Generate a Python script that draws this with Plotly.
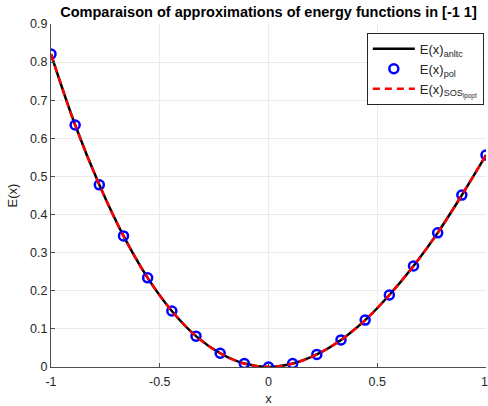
import plotly.graph_objects as go

x_vals = [-1.0, -0.8889, -0.7778, -0.6667, -0.5556, -0.4444, -0.3333, -0.2222, -0.1111, 0.0,
          0.1111, 0.2222, 0.3333, 0.4444, 0.5556, 0.6667, 0.7778, 0.8889, 1.0]
e_anltc = [0.821, 0.635, 0.478, 0.344, 0.234, 0.147, 0.081, 0.036, 0.009, 0.0,
           0.009, 0.033, 0.071, 0.123, 0.189, 0.265, 0.352, 0.451, 0.556]
e_pol = [0.821, 0.635, 0.478, 0.344, 0.234, 0.147, 0.081, 0.036, 0.009, 0.0,
         0.009, 0.033, 0.071, 0.123, 0.189, 0.265, 0.352, 0.451, 0.556]
e_sos = [0.821, 0.635, 0.478, 0.344, 0.234, 0.147, 0.081, 0.036, 0.009, 0.0,
         0.009, 0.033, 0.071, 0.123, 0.189, 0.265, 0.352, 0.451, 0.556]
x_ticks = [-1, -0.5, 0, 0.5, 1]
x_ticklabels = ["-1", "-0.5", "0", "0.5", "1"]
y_ticks = [0, 0.1, 0.2, 0.3, 0.4, 0.5, 0.6, 0.7, 0.8, 0.9]
y_ticklabels = ["0", "0.1", "0.2", "0.3", "0.4", "0.5", "0.6", "0.7", "0.8", "0.9"]

FONT = "Liberation Sans, Arial, sans-serif"
TICK_COLOR = "#262626"

fig = go.Figure()
fig.add_trace(go.Scatter(x=x_vals, y=e_anltc, mode="lines", name="E(x)<sub>anltc</sub>",
                         line=dict(color="black", width=2.5, shape="spline")))
fig.add_trace(go.Scatter(x=x_vals, y=e_pol, mode="markers", name="E(x)<sub>pol</sub>",
                         marker=dict(symbol="circle-open", size=9, color="#0000ff",
                                     line=dict(width=2.5, color="#0000ff"))))
fig.add_trace(go.Scatter(x=x_vals, y=e_sos, mode="lines", name="E(x)<sub>SOS<sub>lpopt</sub></sub>",
                         line=dict(color="#ff0000", width=2.5, dash="7px,5px", shape="spline")))

# The last x tick label sits on the page edge; plotly hides it, so draw it as an annotation.
fig.add_annotation(x=x_ticks[-1], xref="x", y=0, yref="paper", text=x_ticklabels[-1],
                   showarrow=False, xanchor="center", yanchor="middle", yshift=-15, xshift=-2,
                   font=dict(family=FONT, size=12.5, color=TICK_COLOR))

fig.update_layout(
    width=488, height=406,
    margin=dict(l=51, r=2, t=24, b=39),
    paper_bgcolor="white", plot_bgcolor="white",
    font=dict(family=FONT, size=12, color=TICK_COLOR),
    title=dict(text="<b>Comparaison of approximations of energy functions in [-1 1]</b>",
               x=(51 + 486) / 2 / 488, xanchor="center", y=1 - 12 / 406, yanchor="middle",
               font=dict(size=14.5, color="black")),
    showlegend=True,
    legend=dict(x=0.995, y=0.974, xanchor="right", yanchor="top",
                bgcolor="white", bordercolor="#262626", borderwidth=1,
                font=dict(size=13, color=TICK_COLOR), tracegroupgap=0, itemwidth=42),
    xaxis=dict(range=[-1, 1], tickvals=x_ticks, ticktext=x_ticklabels,
               showgrid=True, gridcolor="#ebebeb", gridwidth=1,
               showline=True, linecolor="#4d4d4d", linewidth=1,
               ticks="inside", ticklen=4, tickcolor="#4d4d4d",
               ticklabelstandoff=3,
               zeroline=False, title=dict(text="x", standoff=6, font=dict(size=13)),
               tickfont=dict(size=12.5)),
    yaxis=dict(range=[0, 0.9], tickvals=y_ticks, ticktext=y_ticklabels,
               showgrid=True, gridcolor="#ebebeb", gridwidth=1,
               showline=True, linecolor="#4d4d4d", linewidth=1,
               ticks="inside", ticklen=4, tickcolor="#4d4d4d",
               zeroline=False, title=dict(text="E(x)", standoff=9, font=dict(size=13)),
               tickfont=dict(size=12.5)),
)

fig.write_html("out.html")
